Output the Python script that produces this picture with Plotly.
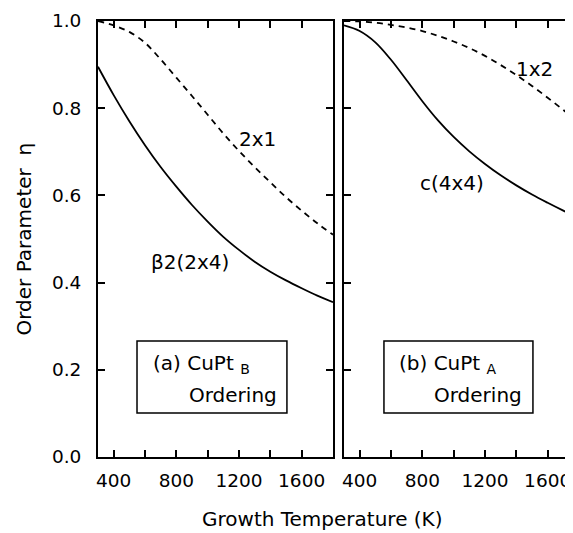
import plotly.graph_objects as go

# ---- data ----
temp = [300, 400, 500, 600, 700, 800, 900, 1000, 1100, 1200, 1300, 1400, 1500, 1600, 1700, 1800]

# (a) CuPt_B panel
eta_2x1 = [1.0, 0.99, 0.975, 0.95, 0.912, 0.87, 0.828, 0.785, 0.742, 0.702, 0.665, 0.63, 0.596, 0.565, 0.536, 0.51]
eta_b2_2x4 = [0.895, 0.83, 0.77, 0.715, 0.665, 0.62, 0.578, 0.54, 0.505, 0.475, 0.448, 0.425, 0.405, 0.387, 0.37, 0.355]

# (b) CuPt_A panel
eta_1x2 = [1.0, 0.999, 0.996, 0.991, 0.985, 0.977, 0.966, 0.953, 0.938, 0.92, 0.899, 0.876, 0.851, 0.824, 0.796, 0.767]
eta_c4x4 = [0.99, 0.977, 0.951, 0.911, 0.864, 0.816, 0.772, 0.734, 0.701, 0.672, 0.646, 0.623, 0.602, 0.583, 0.565, 0.548]

x_major_ticks = [400, 800, 1200, 1600]
x_minor_ticks = [600, 1000, 1400]
y_tickvals = [0.0, 0.2, 0.4, 0.6, 0.8, 1.0]
y_ticktext = ["0.0", "0.2", "0.4", "0.6", "0.8", "1.0"]

FONT = "DejaVu Sans"
BLACK = "#000000"
LW = 1.8

fig = go.Figure()
line_kw = dict(mode="lines", showlegend=False, line_shape="spline")
fig.add_trace(go.Scatter(x=temp, y=eta_2x1, xaxis="x", yaxis="y",
                         line=dict(color=BLACK, width=LW, dash="6px,5px"), **line_kw))
fig.add_trace(go.Scatter(x=temp, y=eta_b2_2x4, xaxis="x", yaxis="y",
                         line=dict(color=BLACK, width=LW), **line_kw))
fig.add_trace(go.Scatter(x=temp, y=eta_1x2, xaxis="x2", yaxis="y2",
                         line=dict(color=BLACK, width=LW, dash="6px,5px"), **line_kw))
fig.add_trace(go.Scatter(x=temp, y=eta_c4x4, xaxis="x2", yaxis="y2",
                         line=dict(color=BLACK, width=LW), **line_kw))

tickfont = dict(family=FONT, size=18.5, color=BLACK)
common_x = dict(tickmode="array", tickvals=x_major_ticks, ticks="inside", ticklen=7, tickwidth=1.5,
                tickcolor=BLACK, showline=True, linecolor=BLACK, linewidth=2, mirror="ticks",
                minor=dict(tickmode="array", tickvals=x_minor_ticks, ticks="inside", ticklen=7,
                           tickwidth=1.5, tickcolor=BLACK, showgrid=False),
                showgrid=False, zeroline=False, tickfont=tickfont, ticklabelstandoff=6)
common_y = dict(range=[0, 1], tickvals=y_tickvals, ticktext=y_ticktext, ticks="inside", ticklen=7,
                tickwidth=1.5, tickcolor=BLACK, showline=True, linecolor=BLACK, linewidth=2,
                showgrid=False, zeroline=False, tickfont=tickfont)

# The page body adds an 8px offset; the figure is sized so the plot lands where the reference has it.
fig.update_layout(
    width=565, height=525,
    margin=dict(l=90, r=0, t=13, b=76),
    paper_bgcolor="white", plot_bgcolor="white",
    font=dict(family=FONT, size=20, color=BLACK),
    xaxis=dict(domain=[0, 0.4947], range=[300, 1800], anchor="y", **common_x),
    yaxis=dict(domain=[0, 1], anchor="x", mirror="ticks", ticklabelstandoff=11, **common_y),
    xaxis2=dict(domain=[0.5179, 1], range=[300, 1761.7], anchor="y2", **common_x),
    yaxis2=dict(domain=[0, 1], anchor="x2", mirror=False, showticklabels=False, **common_y),
    yaxis3=dict(domain=[0, 1], anchor="x2", overlaying="y2", side="right", range=[0, 1],
                tickvals=y_tickvals, ticks="inside", ticklen=3, tickwidth=1.5, tickcolor=BLACK,
                showline=False, showgrid=False, zeroline=False, showticklabels=False),
)

ann_font = dict(family=FONT, size=20, color=BLACK)
annotations = [
    dict(x=1315, y=0.729, xref="x", yref="y", text="2x1"),
    dict(x=887, y=0.447, xref="x", yref="y", text="β2(2x4)"),
    dict(x=1519, y=0.89, xref="x2", yref="y2", text="1x2"),
    dict(x=989, y=0.628, xref="x2", yref="y2", text="c(4x4)"),
    dict(x=640, y=0.213, xref="x", yref="y", text="(a) CuPt <sub>B</sub>", xanchor="left"),
    dict(x=868, y=0.142, xref="x", yref="y", text="Ordering", xanchor="left"),
    dict(x=640, y=0.213, xref="x2", yref="y2", text="(b) CuPt <sub>A</sub>", xanchor="left"),
    dict(x=862, y=0.142, xref="x2", yref="y2", text="Ordering", xanchor="left"),
    dict(x=0, y=0.5, xref="paper", yref="paper", xshift=-74.5, text="Order Parameter  η",
         textangle=-90),
    dict(x=0.4726, y=0, xref="paper", yref="paper", yshift=-62, text="Growth Temperature (K)"),
]
for a in annotations:
    a.setdefault("xanchor", "center")
    fig.add_annotation(showarrow=False, font=ann_font, yanchor="middle", **a)

box = dict(type="rect", line=dict(color=BLACK, width=1.5), fillcolor="rgba(0,0,0,0)", layer="above")
fig.add_shape(x0=549, x1=1506, y0=0.101, y1=0.266, xref="x", yref="y", **box)
fig.add_shape(x0=555, x1=1506, y0=0.101, y1=0.266, xref="x2", yref="y2", **box)

fig.write_html("out.html")
